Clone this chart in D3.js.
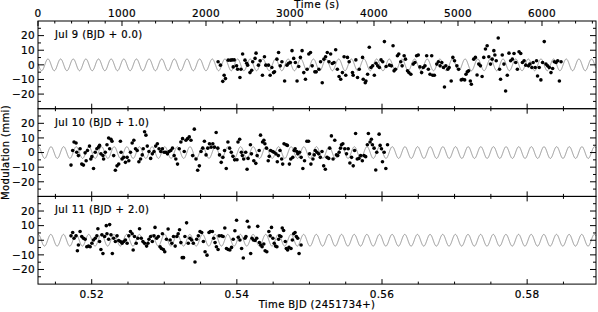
<html>
<head>
<script src="https://d3js.org/d3.v7.min.js"></script>
<style>
  body { margin: 0; background: #fff; }
  text { font-family: "DejaVu Sans", sans-serif; fill: #000; stroke: #000; stroke-width: 0.2; }
</style>
</head>
<body>
<svg id="chart" width="598" height="312"></svg>
<script>
// ---- data: time since start of the top axis (s), modulation (mmi)
var nightLabels = ["Jul 9 (BJD + 0.0)", "Jul 10 (BJD + 1.0)", "Jul 11 (BJD + 2.0)"];

var jul9Time = [2144,2172,2216,2200,2232,2264,2292,2312,2336,2324,2364,2376,2404,2416,2436,2464,2484,2496,2524,2544,
  2556,2584,2596,2624,2644,2672,2696,2712,2744,2764,2784,2804,2816,2844,2864,2884,2904,2936,2964,2984,
  3004,3024,3044,3064,3084,3104,3124,3144,3164,3184,3204,3224,3244,3264,3296,3312,3344,3364,3384,3404,
  3424,3444,3464,3484,3504,3524,3544,3564,3584,3604,3624,3644,3664,3684,3704,3744,3752,3784,3804,3824,
  3864,3872,3896,3904,3924,3944,3964,3984,4004,4024,4044,4064,4084,4104,4124,4144,4184,
  4207,4227,4239,4255,4279,4295,4319,4335,4359,4375,4399,4415,4439,4467,4487,4507,4527,4547,4567,4587,
  4607,4627,4647,4667,4687,4699,4719,4747,4767,4787,4807,4827,4839,4855,4879,4895,4919,4939,4959,4987,
  5007,5039,5055,5079,5095,5111,5127,5147,5159,5187,5207,5227,5247,5267,5287,5307,5327,5347,5367,5387,
  5407,5427,5439,5455,5479,5495,5507,5527,5547,5567,5587,5607,5627,5647,5667,5687,5707,5727,5747,5767,
  5787,5807,5839,5855,5879,5895,5919,5935,5947,5967,5987,6007,6027,6047,6067,6087,6107,6127,6147,6167,
  6187,6207,6227];
var jul9Mod = [2.1,-0.2,-7.1,-11.3,-9.4,3.2,3.2,3.4,3.4,-1.4,-0.7,-3.0,-8.7,-3.0,7.4,3.2,1.1,-0.2,-5.3,-3.7,
  2.1,4.4,8.0,-0.2,2.8,-7.1,5.5,-0.2,-0.2,-7.1,-1.8,-5.3,-4.8,3.9,8.5,-0.7,2.1,-11.0,-0.2,1.1,
  1.6,9.7,4.4,1.6,-11.0,-1.1,5.1,9.7,-5.3,-9.9,-3.0,7.4,8.5,-0.7,-4.8,-4.8,-3.0,2.1,-12.2,3.9,
  5.5,8.5,2.1,7.4,0.9,1.6,10.3,-3.0,-8.0,-9.9,-5.3,5.5,-7.1,5.1,2.1,-5.3,-7.1,3.4,-8.7,-3.0,
  5.1,-9.9,-12.2,-11.0,-6.4,12.0,-1.8,-0.7,-7.1,1.1,-0.7,-1.8,3.4,2.1,15.9,-1.1,-0.2,
  -0.7,13.1,-4.1,-3.0,6.2,7.4,2.1,-0.7,6.2,3.9,-4.1,-5.3,-6.4,0.5,1.6,6.2,6.7,-1.4,-5.3,-1.8,
  -0.7,6.2,-3.0,-6.4,6.2,-7.1,-7.1,0.5,2.1,-0.7,1.6,-1.8,-15.2,-0.7,-3.0,-1.8,-11.0,5.1,2.8,-0.7,
  -3.0,-10.3,-9.9,-10.3,-6.4,-4.8,-4.1,-11.0,-13.3,3.9,5.1,-6.9,0.5,-0.7,-8.0,5.1,10.8,13.1,5.5,0.5,
  3.9,9.7,6.7,2.8,18.4,-3.0,-9.9,6.7,0.5,-17.9,-7.1,8.0,2.8,3.9,7.8,1.6,-3.0,9.0,7.8,1.6,
  2.8,-0.2,-0.7,0.5,-1.8,1.6,-1.8,2.8,-7.6,-1.8,-10.3,1.6,15.9,0.5,-0.7,-1.8,-5.3,-2.5,2.1,1.6,
  2.8,-11.0,2.1];

var jul10Time = [393,413,429,453,461,481,501,521,541,561,573,589,613,629,641,661,681,701,721,733,
  749,773,781,801,821,841,853,869,881,901,921,941,961,981,989,1001,1021,1041,1061,1081,
  1101,1121,1141,1161,1181,1201,1221,1241,1253,1269,1285,1301,1321,1341,1361,1381,1401,1421,1441,1461,
  1481,1501,1521,1541,1561,1581,1601,1621,1641,1661,1681,1701,1721,1741,1761,1781,1801,1821,1841,1861,
  1881,1901,1921,1941,1961,1981,2001,2021,2041,2061,2081,2101,2121,2141,2161,2181,2201,2221,2241,2261,
  2281,2301,2321,2341,2369,2381,2401,2421,2433,2449,2473,2489,2501,2529,2541,2569,2593,2609,2633,2649,
  2673,2689,2701,2721,2741,2753,2769,2793,2809,2833,2849,2861,2881,2901,2913,2929,2953,2969,2993,3009,
  3033,3049,3061,3081,3093,3113,3133,3153,3173,3201,3221,3233,3249,3273,3289,3301,3321,3341,3361,3381,
  3401,3421,3441,3461,3473,3493,3513,3533,3553,3569,3585,3601,3613,3629,3653,3673,3693,3713,3733,3753,
  3769,3781,3801,3821,3841,3861,3881,3901,3921,3933,3953,3969,3981,4001,4021,4033,4061,4073,4089,4101,
  4121,4141,4161];
var jul10Mod = [-8.6,1.4,7.2,6.5,0.2,-2.1,2.6,-7.9,-8.6,-0.2,-5.6,1.4,4.4,-4.4,-2.8,-10.9,0.2,2.6,3.7,4.9,
  -0.9,-2.1,-4.4,0.2,5.3,10.0,2.6,9.1,7.7,-2.1,-12.1,-9.1,-7.9,7.7,0.2,-4.4,-3.3,-6.7,-3.3,-5.6,
  0.2,6.5,8.4,2.6,1.4,-6.3,-4.4,-1.6,2.6,14.2,11.9,4.4,0.7,-4.0,-0.9,0.7,4.4,6.0,2.6,0.7,
  2.6,0.2,0.2,-0.9,0.7,1.4,3.0,-2.1,-4.4,-7.9,2.6,7.2,9.5,0.7,8.4,9.5,10.7,8.4,-2.1,16.0,
  -4.4,-12.1,-9.1,0.7,3.0,7.7,-1.6,3.0,6.0,3.7,6.0,3.7,13.7,3.0,-1.6,-6.7,-3.3,1.4,-10.9,7.2,
  3.0,0.2,-2.6,-5.0,-4.9,7.2,9.1,0.2,-2.1,-4.4,0.2,-11.4,-4.0,5.3,-0.9,-5.6,-7.4,-2.1,1.4,11.9,
  7.2,8.4,6.0,3.0,-5.6,-2.6,1.4,0.7,0.2,-0.9,-6.3,-2.1,1.4,-4.4,-7.9,6.0,5.3,4.9,-7.9,-4.4,
  -3.3,1.4,2.6,0.7,-0.9,0.2,-3.3,-10.9,-5.6,7.7,7.7,-0.9,-7.9,-4.4,-1.6,1.4,0.2,-0.9,-3.3,0.7,
  -9.1,-11.4,-3.3,-4.0,3.0,11.4,-4.4,8.4,-1.6,-2.1,0.2,3.0,5.3,6.0,2.6,-0.9,2.6,-7.2,-3.3,-9.1,
  1.4,13.0,-4.4,-4.0,-2.1,-5.6,-2.1,-2.8,5.3,13.0,7.2,9.1,5.3,3.0,-11.9,0.2,12.6,4.9,2.6,-6.3,
  0.2,-10.9,5.3];

var jul11Time = [393,413,429,453,469,481,501,521,541,561,581,601,621,641,661,681,701,713,733,749,
  761,773,793,813,821,841,853,869,885,901,921,941,961,981,1001,1021,1041,1061,1081,1101,
  1121,1133,1149,1169,1189,1209,1229,1249,1269,1293,1309,1321,1341,1361,1381,1393,1413,1433,1453,1469,
  1481,1493,1509,1529,1549,1573,1593,1613,1633,1653,1669,1685,1701,1717,1733,1749,1769,1789,1809,1829,
  1849,1869,1889,1909,1929,1949,1969,1989,2012,2036,2052,2076,2092,2108,2124,2144,2156,2184,2204,2224,
  2244,2264,2284,2304,2324,2344,2364,2384,2404,2424,2444,2464,2476,2492,2512,2532,2548,2564,2584,2604,
  2616,2636,2652,2668,2688,2704,2724,2748,2764,2780,2796,2812,2828,2844,2864,2876,2892,2908,2924,2944,
  2956,2972,2988,3012,3028,3044,3060,3076,3092,3108,3132];
var jul11Mod = [3.0,5.3,1.4,3.0,-7.2,-3.3,6.0,2.6,1.4,0.7,-4.4,-4.0,-4.4,-2.1,0.2,1.4,3.0,7.9,-0.9,-6.3,
  3.7,-9.1,2.6,10.0,4.4,0.7,10.7,3.7,-9.1,1.4,-0.9,3.0,-0.2,-0.9,-2.1,-0.9,0.2,-2.1,3.0,6.0,
  4.4,-6.7,2.6,-2.1,1.4,7.9,1.4,-0.9,-2.1,-4.0,-2.1,0.7,2.6,-0.9,3.0,8.8,1.4,2.6,-4.4,-5.6,
  4.4,-6.3,-7.9,0.7,7.7,0.2,-2.1,2.6,-4.0,2.6,4.4,7.2,-1.6,-11.9,-11.9,2.6,11.9,-2.1,1.4,0.2,
  -2.1,-14.9,0.7,3.0,6.0,5.3,-0.9,-7.9,-10.2,5.3,6.0,6.0,1.4,-1.6,-4.4,-6.3,3.0,3.0,2.6,8.4,
  -5.6,-6.3,-6.7,-4.9,0.7,6.5,13.7,2.1,0.2,-5.6,-12.1,1.4,2.6,13.0,9.1,-9.1,1.4,0.2,-0.2,1.4,
  9.5,-1.6,-3.3,-4.4,-2.6,-7.2,-7.9,6.0,3.0,8.8,1.4,-2.1,-4.0,-4.4,0.7,3.0,2.6,8.4,6.7,-0.9,
  -5.6,-6.7,-4.9,-5.6,0.2,4.4,5.3,2.6,1.4,-9.1,-3.3];

// fitted sinusoid (drawn across each whole night)
var sineAmp = 4.0;           // mmi
var sinePeriod = 150.5;      // s
var sinePeak = [6289, 4218, 3313];   // time of a maximum in each night (s)

// axes
var secDomain = [0, 6643];
var bjdStart = 0.5126;
var secTicks = [0, 1000, 2000, 3000, 4000, 5000, 6000];
var bjdTicks = [0.52, 0.54, 0.56, 0.58];
var modTicks = [20, 10, 0, -10, -20];

var nights = [
  {label: nightLabels[0], t: jul9Time, m: jul9Mod},
  {label: nightLabels[1], t: jul10Time, m: jul10Mod},
  {label: nightLabels[2], t: jul11Time, m: jul11Mod}
];

var svg = d3.select("#chart");
var left = 38, right = 596, top0 = 21, ph = 87.7;

var xSec = d3.scaleLinear().domain(secDomain).range([left, right]);
var xBjd = d3.scaleLinear().domain([bjdStart, bjdStart + secDomain[1] / 86400]).range([left, right]);

var minorSec = d3.range(0, secDomain[1], 200);
var minorBjd = d3.range(0.515, 0.59, 0.005);

function fmtMod(v) { return v < 0 ? "\u2212" + Math.abs(v) : "" + v; }

nights.forEach(function(n, i) {
  var top = top0 + i * ph;
  var y = d3.scaleLinear().domain([-30, 30]).range([top + ph, top]);
  var g = svg.append("g");

  // sine model
  var pts = d3.range(secDomain[0], secDomain[1] + 1, 2).map(function(t) {
    return [t, sineAmp * Math.cos(2 * Math.PI * (t - sinePeak[i]) / sinePeriod)];
  });
  g.append("path")
    .attr("d", d3.line().x(function(d) { return xSec(d[0]); }).y(function(d) { return y(d[1]); })(pts))
    .attr("fill", "none").attr("stroke", "#888").attr("stroke-width", 0.9);

  // data points
  g.selectAll("circle").data(d3.zip(n.t, n.m)).enter().append("circle")
    .attr("cx", function(d) { return xSec(d[0]); })
    .attr("cy", function(d) { return y(d[1]); })
    .attr("r", 1.8).attr("fill", "#000");

  // frame
  g.append("rect").attr("x", left).attr("y", top).attr("width", right - left).attr("height", ph)
    .attr("fill", "none").attr("stroke", "#000").attr("stroke-width", 1);

  // y ticks, both sides, inward
  var yMinor = d3.range(-25, 30, 5);
  yMinor.forEach(function(v) {
    var len = (v % 10 === 0) ? 6 : 3;
    g.append("line").attr("x1", left).attr("x2", left + len).attr("y1", y(v)).attr("y2", y(v)).attr("stroke", "#000");
    g.append("line").attr("x1", right).attr("x2", right - len).attr("y1", y(v)).attr("y2", y(v)).attr("stroke", "#000");
  });
  modTicks.forEach(function(v) {
    g.append("text").attr("x", 35).attr("y", y(v) + 3.8).attr("text-anchor", "end")
      .attr("font-size", 10.5).attr("letter-spacing", 0.3).text(fmtMod(v));
  });

  // bottom x ticks (BJD)
  minorBjd.forEach(function(v) {
    var major = Math.abs(v * 100 - Math.round(v * 100)) < 1e-6 && Math.round(v * 100) % 2 === 0;
    var len = major ? 5 : 2.5;
    g.append("line").attr("x1", xBjd(v)).attr("x2", xBjd(v)).attr("y1", top + ph).attr("y2", top + ph - len).attr("stroke", "#000");
    if (i > 0) {
      g.append("line").attr("x1", xBjd(v)).attr("x2", xBjd(v)).attr("y1", top).attr("y2", top + len).attr("stroke", "#000");
    }
  });
  if (i === 0) {
    minorSec.forEach(function(v) {
      var len = (v % 1000 === 0) ? 5 : 2.5;
      g.append("line").attr("x1", xSec(v)).attr("x2", xSec(v)).attr("y1", top).attr("y2", top + len).attr("stroke", "#000");
    });
  }

  g.append("text").attr("x", 55).attr("y", top + 17).attr("font-size", 10)
    .attr("letter-spacing", 0.4).text(n.label);
});

// top seconds axis labels
secTicks.forEach(function(v) {
  svg.append("text").attr("x", xSec(v)).attr("y", 17).attr("text-anchor", "middle")
    .attr("font-size", 10.5).attr("letter-spacing", 0.3).text(v);
});
svg.append("text").attr("x", (left + right) / 2).attr("y", 8).attr("text-anchor", "middle")
  .attr("font-size", 10).attr("letter-spacing", 0.6).text("Time (s)");

// bottom BJD labels
var bottom = top0 + 3 * ph;
bjdTicks.forEach(function(v) {
  svg.append("text").attr("x", xBjd(v)).attr("y", bottom + 14).attr("text-anchor", "middle")
    .attr("font-size", 10.5).attr("letter-spacing", 0.3).text(d3.format(".2f")(v));
});
svg.append("text").attr("x", (left + right) / 2).attr("y", 308).attr("text-anchor", "middle")
  .attr("font-size", 10).attr("letter-spacing", 0.4).text("Time BJD (2451734+)");

svg.append("text").attr("transform", "translate(9," + (top0 + 1.5 * ph) + ") rotate(-90)")
  .attr("text-anchor", "middle").attr("font-size", 10).attr("letter-spacing", 0.4).text("Modulation (mmi)");
</script>
</body>
</html>
